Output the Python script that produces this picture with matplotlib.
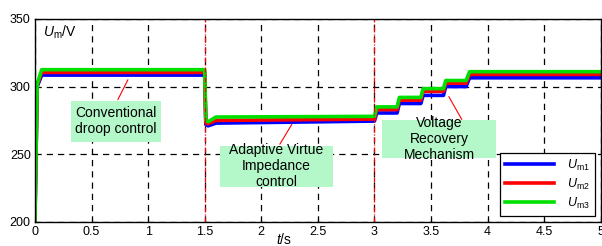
import numpy as np
import matplotlib
matplotlib.use("Agg")
import matplotlib.pyplot as plt
from matplotlib.patches import Rectangle

plt.rcParams['font.family'] = ['Liberation Sans', 'DejaVu Sans']
plt.rcParams['mathtext.fontset'] = 'custom'
plt.rcParams['mathtext.it'] = 'Liberation Sans:italic'
plt.rcParams['mathtext.rm'] = 'Liberation Sans'

# breakpoints in time (s) and voltage of the three inverters (V)
t = [0, 0.02, 0.06, 1.5, 1.51, 1.53, 1.6, 3.0, 3.02, 3.2, 3.22, 3.41, 3.43,
     3.61, 3.63, 3.81, 3.84, 5.0]
u_m1 = [200, 300, 308.5, 308.5, 272, 271, 273, 274.5, 280.5, 280.5, 287.5, 287.5,
        293.5, 293.5, 300, 300, 306.5, 306.5]
u_m2 = [200, 301, 310.5, 310.5, 273.5, 272.5, 275, 276, 283, 283, 290, 290,
        296.5, 296.5, 302.5, 302.5, 309, 309]
u_m3 = [200, 302, 312.5, 312.5, 275, 274, 277.5, 278, 285, 285, 292, 292,
        298.5, 298.5, 304.5, 304.5, 311, 311]
labels = [r'$U_{\mathrm{m1}}$', r'$U_{\mathrm{m2}}$', r'$U_{\mathrm{m3}}$']
colors = ['#0000ff', '#ff0000', '#00e000']

fig = plt.figure(figsize=(6.02, 2.46), dpi=100)
ax = fig.add_axes([0.058, 0.098, 0.94, 0.825])

for y, lab, c in zip([u_m1, u_m2, u_m3], labels, colors):
    ax.plot(t, y, color=c, lw=2.6, label=lab)

ax.axvline(1.5, color='red', ls=(0, (4, 1.5, 1, 1.5)), lw=0.9)
ax.axvline(3.0, color='red', ls=(0, (4, 1.5, 1, 1.5)), lw=0.9)

ax.set_xlim(0, 5)
ax.set_ylim(200, 350)
ax.set_xticks(np.arange(0, 5.01, 0.5))
ax.set_xticklabels(['0', '0.5', '1', '1.5', '2', '2.5', '3', '3.5', '4', '4.5', '5'])
ax.set_yticks([200, 250, 300, 350])
ax.tick_params(direction='in', length=3, labelsize=9, pad=3)
ax.grid(True, color='black', ls=(0, (5, 4)), lw=0.9)
for s in ax.spines.values():
    s.set_linewidth(1.0)

ax.text(0.07, 340, r'$U_{\mathrm{m}}$/V', fontsize=10, va='center')
ax.text(2.2, 187, r'$t$/s', fontsize=10, ha='center', va='center')

# annotation boxes: (x0, x1, y0, y1), text centre, connector start -> end
notes = [
    ('Conventional\ndroop control', (0.318, 1.113, 258.8, 289.7), (0.716, 274.3),
     (0.733, 290.4), (0.822, 305.1)),
    ('Adaptive Virtue\nImpedance\ncontrol', (1.634, 2.633, 225.7, 255.9), (2.135, 241.5),
     (2.164, 257.4), (2.27, 272.1)),
    ('Voltage\nRecovery\nMechanism', (3.065, 4.072, 247.0, 275.0), (3.571, 261.4),
     (3.772, 275.7), (3.657, 292.6)),
]
for txt, (x0, x1, y0, y1), (tx, ty), p0, p1 in notes:
    ax.add_patch(Rectangle((x0, y0), x1 - x0, y1 - y0, facecolor='#b4f7c8',
                           edgecolor='none', zorder=3))
    ax.text(tx, ty, txt, fontsize=10, ha='center', va='center', zorder=4,
            linespacing=1.2)
    ax.annotate('', xy=p1, xytext=p0,
                arrowprops=dict(arrowstyle='-', color='red', lw=0.8,
                                shrinkA=0, shrinkB=0), zorder=4)

leg = ax.legend(loc='lower right', fontsize=9, frameon=True, fancybox=False,
                edgecolor='black', framealpha=1, handlelength=3.9,
                handletextpad=1.0, borderaxespad=0.5, labelspacing=0.3)
leg.get_frame().set_linewidth(0.9)

fig.savefig('out.png', dpi=100)
